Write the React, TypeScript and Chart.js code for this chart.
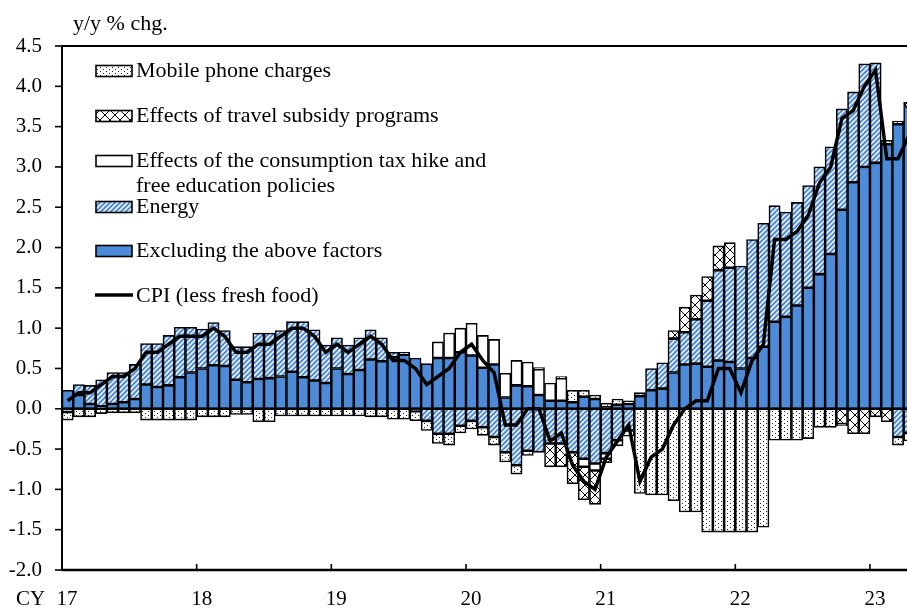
import React, { useEffect, useRef } from "react";
import { Chart, registerables } from "chart.js";

Chart.register(...registerables);

// Monthly data, Jan 2017 .. Apr 2023 (76 months), y/y % contributions
const yearLabels = ["17", "18", "19", "20", "21", "22", "23"];
const yTickValues = [-2.0, -1.5, -1.0, -0.5, 0.0, 0.5, 1.0, 1.5, 2.0, 2.5, 3.0, 3.5, 4.0, 4.5];

const excluding = [
  0.23, 0.17, 0.06, 0.03, 0.06, 0.08, 0.12, 0.30, 0.27, 0.29, 0.39, 0.45,
  0.50, 0.54, 0.53, 0.36, 0.33, 0.37, 0.38, 0.40, 0.46, 0.39, 0.35, 0.32,
  0.50, 0.43, 0.48, 0.61, 0.59, 0.64, 0.67, 0.63, 0.56, 0.63, 0.63, 0.70,
  0.66, 0.51, 0.55, 0.14, 0.29, 0.28, 0.17, 0.10, 0.10, 0.08, 0.15, 0.12,
  0.02, 0.05, 0.06, 0.155, 0.23, 0.25, 0.45, 0.55, 0.56, 0.52, 0.60, 0.58,
  0.50, 0.63, 0.77, 1.08, 1.14, 1.28, 1.50, 1.67, 1.92, 2.47, 2.81, 3.00,
  3.05, 3.28, 3.53, 3.75,
];

const energy = [
  -0.04, 0.13, 0.23, 0.33, 0.39, 0.37, 0.43, 0.51, 0.54, 0.62, 0.62, 0.56,
  0.49, 0.53, 0.44, 0.41, 0.44, 0.57, 0.56, 0.57, 0.62, 0.69, 0.63, 0.47,
  0.38, 0.36, 0.40, 0.37, 0.29, 0.06, 0.03, -0.03, -0.15, -0.31, -0.31, -0.21,
  -0.15, -0.23, -0.35, -0.54, -0.70, -0.52, -0.54, -0.43, -0.43, -0.54, -0.62, -0.68,
  -0.55, -0.39, -0.27, 0.045, 0.27, 0.32, 0.42, 0.40, 0.55, 0.82, 1.12, 1.17,
  1.27, 1.47, 1.53, 1.44, 1.30, 1.28, 1.27, 1.33, 1.33, 1.25, 1.12, 1.28,
  1.24, 0, -0.35, -0.30,
];

const taxEducation = [
  0, 0, 0, 0, 0, 0, 0, 0, 0, 0, 0, 0,
  0, 0, 0, 0, 0, 0, 0, 0, 0, 0, 0, 0,
  0, 0, 0, 0, 0, 0, 0, 0, 0, 0.20, 0.31, 0.30,
  0.40, 0.40, 0.31, 0.30, 0.31, 0.30, 0.32, 0.22, 0.28, 0, -0.10, -0.085,
  -0.07, -0.07, -0.07, 0, 0, 0, 0, 0, 0, 0, 0, 0,
  0, 0, 0, 0, 0, 0, 0, 0, 0, 0, 0, 0,
  0, 0, 0, 0,
];

const travel = [
  0, 0, 0, 0, 0, 0, 0, 0, 0, 0, 0, 0,
  0, 0, 0, 0, 0, 0, 0, 0, 0, 0, 0, 0,
  0, 0, 0, 0, 0, 0, 0, 0, 0, 0, 0, 0,
  0, 0, 0, 0, 0, 0, 0, -0.29, -0.29, -0.39, -0.41, -0.42,
  -0.05, 0, 0, 0, 0, 0, 0.10, 0.31, 0.30, 0.30, 0.30, 0.31,
  0, 0, 0, 0, 0, 0, 0, 0, 0, -0.19, -0.31, -0.31,
  -0.10, -0.16, 0.04, 0.05,
];

const mobile = [
  -0.10, -0.10, -0.10, -0.06, -0.05, -0.05, -0.05, -0.14, -0.14, -0.14, -0.14, -0.14,
  -0.10, -0.10, -0.10, -0.07, -0.07, -0.16, -0.16, -0.09, -0.09, -0.09, -0.09, -0.09,
  -0.09, -0.09, -0.09, -0.10, -0.10, -0.13, -0.13, -0.12, -0.12, -0.12, -0.14, -0.09,
  -0.10, -0.10, -0.10, -0.12, -0.11, -0.06, 0.02, 0, 0.02, 0.15, 0.08, 0.05,
  0.05, 0.07, 0.04, -1.05, -1.07, -1.07, -1.14, -1.28, -1.28, -1.53, -1.53, -1.53,
  -1.53, -1.53, -1.47, -0.39, -0.39, -0.39, -0.37, -0.23, -0.23, -0.02, 0, 0,
  0, 0.05, -0.10, -0.10,
];

const cpiLessFreshFood = [
  0.1, 0.2, 0.2, 0.3, 0.4, 0.4, 0.5, 0.7, 0.7, 0.8, 0.9, 0.9,
  0.9, 1.0, 0.9, 0.7, 0.7, 0.8, 0.8, 0.9, 1.0, 1.0, 0.9, 0.7,
  0.8, 0.7, 0.8, 0.9, 0.8, 0.6, 0.6, 0.5, 0.3, 0.4, 0.5, 0.7,
  0.8, 0.6, 0.45, -0.2, -0.2, 0.0, 0.0, -0.4, -0.3, -0.7, -0.9, -1.0,
  -0.6, -0.4, -0.2, -0.9, -0.6, -0.5, -0.2, 0.0, 0.1, 0.1, 0.5, 0.5,
  0.2, 0.6, 0.8, 2.1, 2.1, 2.2, 2.4, 2.8, 3.0, 3.6, 3.7, 4.0,
  4.2, 3.1, 3.1, 3.4,
];

const legendLabels = [
  ["Mobile phone charges"],
  ["Effects of travel subsidy programs"],
  ["Effects of the consumption tax hike and", "free education policies"],
  ["Energy"],
  ["Excluding the above factors"],
  ["CPI (less fresh food)"],
];

const BLUE = "#4d8bd8";
const FONT = "'Liberation Serif', 'Times New Roman', Times, serif";

function makeTile(w: number, h: number, draw: (c: CanvasRenderingContext2D) => void, ctx: CanvasRenderingContext2D) {
  const t = document.createElement("canvas");
  t.width = w;
  t.height = h;
  const c = t.getContext("2d")!;
  draw(c);
  return ctx.createPattern(t, "repeat")!;
}

export default function App() {
  const ref = useRef<HTMLCanvasElement>(null);

  useEffect(() => {
    const canvas = ref.current!;
    const ctx0 = canvas.getContext("2d")!;

    const hatch = makeTile(5, 5, (c) => {
      c.fillStyle = BLUE;
      c.fillRect(0, 0, 5, 5);
      c.strokeStyle = "#ffffff";
      c.lineWidth = 1.5;
      c.beginPath();
      c.moveTo(-1, 6); c.lineTo(6, -1);
      c.moveTo(-1, 1); c.lineTo(1, -1);
      c.moveTo(4, 6); c.lineTo(6, 4);
      c.stroke();
    }, ctx0);

    const cross = makeTile(10, 10, (c) => {
      c.fillStyle = "#ffffff";
      c.fillRect(0, 0, 10, 10);
      c.strokeStyle = "#000000";
      c.lineWidth = 1;
      c.beginPath();
      c.moveTo(0, 0); c.lineTo(10, 10);
      c.moveTo(10, 0); c.lineTo(0, 10);
      c.stroke();
    }, ctx0);

    const dots = makeTile(6, 4, (c) => {
      c.fillStyle = "#ffffff";
      c.fillRect(0, 0, 6, 4);
      c.fillStyle = "#222222";
      c.fillRect(1, 1, 1, 1);
      c.fillRect(4, 3, 1, 1);
    }, ctx0);

    const pts = (arr: number[]) => arr.map((v, i) => ({ x: i, y: v === 0 ? null : v }));
    const barDs = (label: string, arr: number[], fill: any) => ({
      type: "bar" as const,
      label,
      data: pts(arr),
      backgroundColor: fill,
      borderColor: "#000000",
      borderWidth: 1.6,
      borderSkipped: false,
      stack: "s",
      order: 1,
      barPercentage: 1,
      categoryPercentage: 1,
    });

    const legendFills: any[] = [dots, cross, "#ffffff", hatch, BLUE, null];

    const framePlugin = {
      id: "frame",
      afterDatasetsDraw(chart: any) {
        const { ctx, chartArea: a, scales } = chart;
        const xs = scales.x, ys = scales.y;
        ctx.save();
        ctx.strokeStyle = "#000";
        const ln = (x1: number, y1: number, x2: number, y2: number, w: number) => {
          ctx.lineWidth = w;
          ctx.beginPath();
          ctx.moveTo(x1, y1);
          ctx.lineTo(x2, y2);
          ctx.stroke();
        };
        const z = ys.getPixelForValue(0);
        ln(a.left, z, a.right, z, 2);
        ln(a.left, a.top, a.right, a.top, 2);
        ln(a.left, a.top - 1, a.left, a.bottom + 1, 2);
        ln(a.left, a.bottom, a.right, a.bottom, 2.5);
        yTickValues.forEach((v) => {
          const py = ys.getPixelForValue(v);
          ln(a.left - 7, py, a.left, py, 1.6);
        });
        yearLabels.forEach((_, k) => {
          if (k === 0) return;
          const px = xs.getPixelForValue(12 * k - 0.5);
          ln(px, a.bottom, px, a.bottom - 6, 1.6);
        });
        ctx.restore();
      },
      afterDraw(chart: any) {
        const { ctx } = chart;
        ctx.save();
        ctx.fillStyle = "#000";
        ctx.textBaseline = "middle";
        ctx.textAlign = "left";
        ctx.font = `22px ${FONT}`;
        ctx.fillText("y/y % chg.", 73, 24);
        ctx.font = `21px ${FONT}`;
        ctx.fillText("CY", 16, 599);

        const rowY = [71, 116, 161, 207, 251, 296];
        ctx.font = `22px ${FONT}`;
        legendLabels.forEach((lines, i) => {
          const cy = rowY[i];
          const fill = legendFills[i];
          if (fill) {
            ctx.fillStyle = fill;
            ctx.fillRect(96, cy - 5.5, 36, 11);
            ctx.strokeStyle = "#000";
            ctx.lineWidth = 1.6;
            ctx.strokeRect(96, cy - 5.5, 36, 11);
          } else {
            ctx.strokeStyle = "#000";
            ctx.lineWidth = 3.5;
            ctx.beginPath();
            ctx.moveTo(95, cy - 1);
            ctx.lineTo(133, cy - 1);
            ctx.stroke();
          }
          ctx.fillStyle = "#000";
          lines.forEach((t, j) => ctx.fillText(t, 136, cy + j * 25));
        });
        ctx.restore();
      },
    };

    const chart = new Chart(canvas, {
      type: "bar",
      data: {
        datasets: [
          barDs("Excluding the above factors", excluding, BLUE),
          barDs("Energy", energy, hatch),
          barDs("Effects of the consumption tax hike and free education policies", taxEducation, "#ffffff"),
          barDs("Effects of travel subsidy programs", travel, cross),
          barDs("Mobile phone charges", mobile, dots),
          {
            type: "line" as const,
            label: "CPI (less fresh food)",
            data: cpiLessFreshFood.map((v, i) => ({ x: i, y: v })),
            borderColor: "#000000",
            borderWidth: 3.5,
            pointRadius: 0,
            tension: 0,
            stack: "cpi",
            order: 0,
          } as any,
        ],
      },
      options: {
        animation: false,
        responsive: false,
        devicePixelRatio: 1,
        layout: { padding: { top: 46, left: 0, right: 0, bottom: 0 } },
        plugins: { legend: { display: false }, tooltip: { enabled: false } },
        scales: {
          x: {
            type: "linear",
            min: -0.5,
            max: 74.8,
            offset: false,
            stacked: true,
            grid: { display: false },
            border: { display: false },
            afterBuildTicks: (s: any) => {
              s.ticks = yearLabels.map((_, k) => ({ value: 12 * k - 0.5 }));
            },
            afterFit: (s: any) => {
              s.height = 40;
            },
            ticks: {
              autoSkip: false,
              maxRotation: 0,
              padding: 9,
              labelOffset: 5,
              color: "#000",
              font: { family: FONT, size: 21 },
              callback: (v: any) => {
                const k = Math.round((Number(v) + 0.5) / 12);
                return yearLabels[k] ?? "";
              },
            },
          },
          y: {
            min: -2,
            max: 4.5,
            stacked: true,
            grid: { display: false },
            border: { display: false },
            afterBuildTicks: (s: any) => {
              s.ticks = yTickValues.map((v) => ({ value: v }));
            },
            afterFit: (s: any) => {
              s.width = 62;
            },
            ticks: {
              padding: 12,
              color: "#000",
              font: { family: FONT, size: 21 },
              callback: (v: any) => Number(v).toFixed(1),
            },
          },
        },
      } as any,
      plugins: [framePlugin],
    });

    return () => chart.destroy();
  }, []);

  return (
    <div style={{ position: "fixed", left: 0, top: 0, width: 907, height: 610, background: "#fff" }}>
      <canvas ref={ref} width={907} height={610} style={{ width: 907, height: 610, display: "block" }} />
    </div>
  );
}
